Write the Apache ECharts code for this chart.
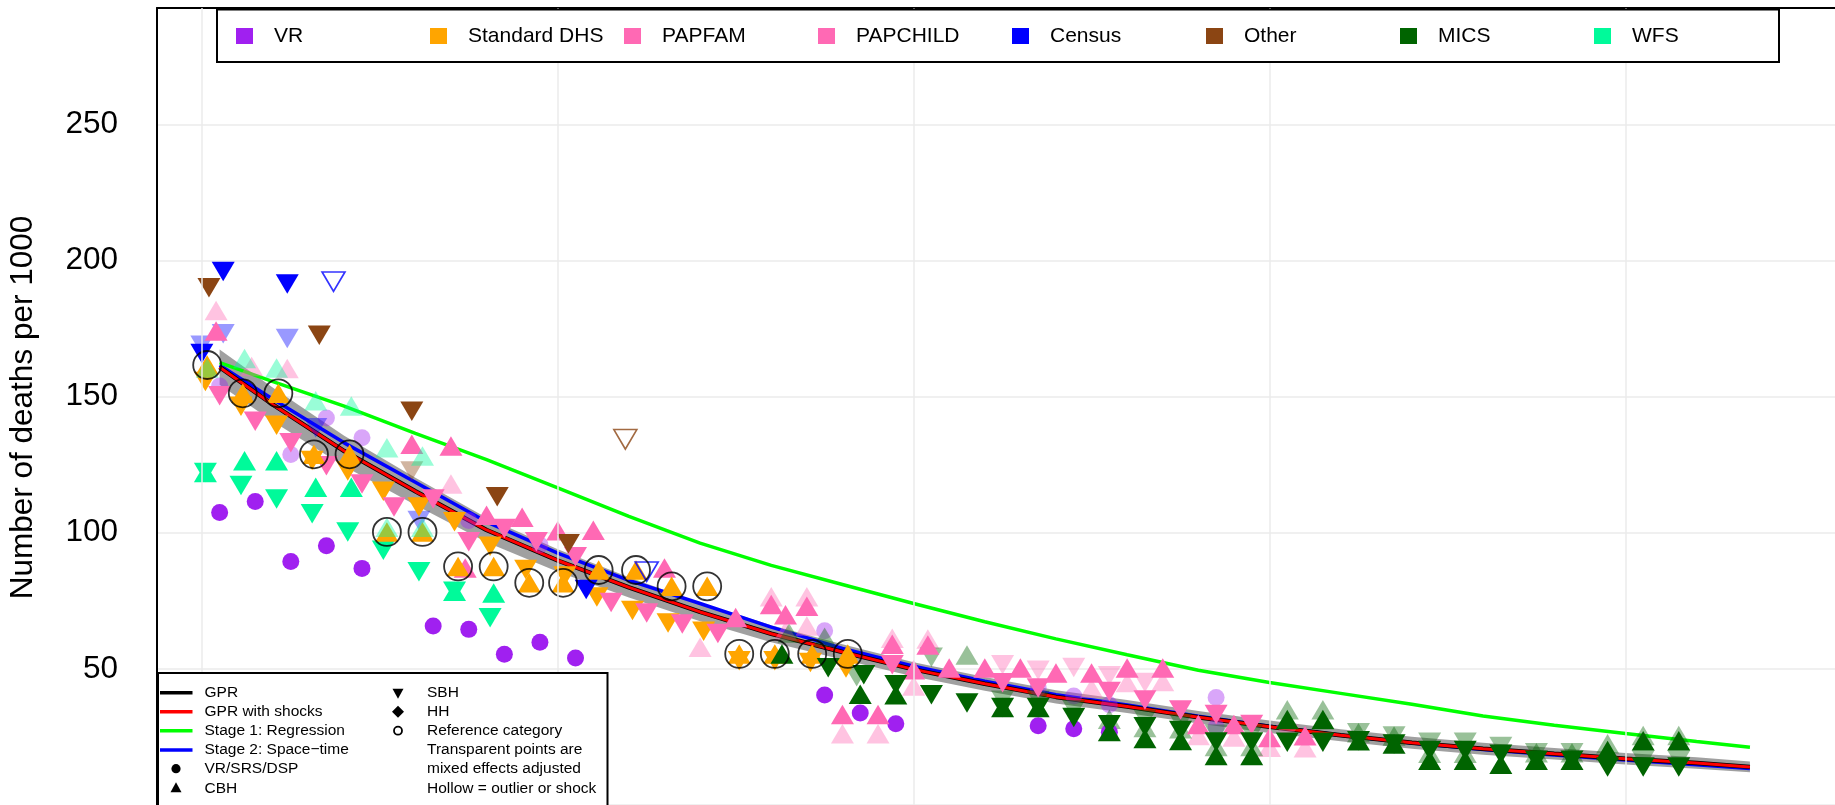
<!DOCTYPE html>
<html><head><meta charset="utf-8">
<script src="https://cdn.jsdelivr.net/npm/echarts@6.0.0/dist/echarts.min.js"></script>
<style>html,body{margin:0;padding:0;background:#fff;overflow:hidden}#c{width:1835px;height:805px}</style>
</head><body><div id="c"></div>
<script>
// ---------- legend / categories ----------
const sources = ['VR','Standard DHS','PAPFAM','PAPCHILD','Census','Other','MICS','WFS'];
const sourceColors = ['#A020F0','#FFA500','#FF69B4','#FF69B4','#0000FF','#8B4513','#006400','#00FA9A'];
const lineLegend = ['GPR','GPR with shocks','Stage 1: Regression','Stage 2: Space\u2212time'];
const lineLegendColors = ['#000000','#FF0000','#00FF00','#0000FF'];
const typeLegend = ['VR/SRS/DSP','CBH'];
const noteLegend = ['SBH','HH','Reference category','Transparent points are','mixed effects adjusted','Hollow = outlier or shock'];
const yTitle = 'Number of deaths per 1000';
const xGridYears = [1970,1980,1990,2000,2010];

// ---------- estimate lines ----------
const estYears  = [1970.5,1972,1974,1976,1978,1980,1982,1984,1986,1988,1990,1992,1994,1996,1998,2000,2002,2004,2006,2008,2010,2012,2013.5];
const gpr       = [160.8,147.0,130.0,115.2,101.0,89.8,79.9,70.9,62.9,56.2,49.8,44.5,39.7,36.2,32.2,28.7,25.6,22.9,20.7,18.8,17.0,15.4,14.0];
const gprShocks = [160.8,147.0,130.0,115.2,101.0,89.8,79.9,70.9,62.9,56.2,49.8,44.5,39.7,36.2,32.2,28.7,25.6,22.9,20.7,18.8,17.0,15.4,14.0];
const stage1    = [162.5,155.5,146.5,136.5,126.8,116.5,106.0,96.2,88.0,81.0,74.0,67.3,61.0,55.2,49.5,45.0,41.0,37.0,32.7,29.3,26.3,23.3,21.2];
const stage2    = [161.5,149.0,133.0,118.5,104.0,92.5,82.5,74.0,65.3,57.5,51.0,45.5,40.5,36.7,32.6,28.9,25.6,22.8,20.4,18.4,16.5,14.8,13.4];
const gprLower  = [154.3,140.8,124.4,110.2,96.5,85.7,76.2,67.5,59.8,53.4,47.2,42.0,37.3,33.8,29.9,26.4,23.4,20.7,18.5,16.7,14.9,13.3,12.0];
const gprUpper  = [167.3,153.2,135.6,120.2,105.5,93.9,83.6,74.3,66.0,59.0,52.4,47.0,42.1,38.6,34.5,31.0,27.8,25.1,22.9,20.9,19.1,17.5,16.0];

// ---------- data points [year, value] ----------
const vrPoints = [[1970.5,107.4],[1971.5,111.5],[1972.5,89.4],[1973.5,95.2],[1974.5,86.9],[1976.5,65.7],[1977.5,64.5],[1978.5,55.4],[1979.5,59.8],[1980.5,54.0],[1987.5,40.4],[1988.5,33.8],[1989.5,29.8],[1993.5,29.1],[1994.5,28.0],[1995.5,26.7]];
const vrAdj = [[1970.5,153.9],[1972.5,128.7],[1973.5,142.1],[1974.5,134.9],[1977.5,104.5],[1979.5,95.5],[1987.5,64.0],[1993.5,43.0],[1994.5,40.0],[1995.5,36.8],[1998.5,39.5],[1998.5,28.6]];

const dhsCBH = [[1970.15,161.6],[1971.15,151.2],[1972.15,151.2],[1973.15,128.8],[1974.15,128.8],[1975.2,100.3],[1976.2,100.3],[1977.2,87.6],[1978.2,87.6],[1979.2,81.6],[1980.15,81.6],[1981.15,86.3],[1982.2,86.3],[1983.2,80.3],[1984.2,80.3],[1985.1,55.5],[1986.1,55.5],[1987.15,55.5],[1988.15,55.5]];
const dhsSBH = [[1970.1,155.5],[1971.1,146.4],[1972.1,139.5],[1973.1,126.5],[1974.1,122.7],[1975.1,115.2],[1976.1,109.4],[1977.1,104.0],[1978.1,95.0],[1979.1,86.5],[1980.2,84.1],[1981.1,76.4],[1982.1,71.4],[1983.1,66.8],[1984.1,63.8],[1985.1,53.0],[1986.1,53.0],[1987.1,52.3],[1988.1,50.3]];

const papchildCBH = [[1970.4,174.1],[1975.9,132.5],[1977.0,131.8],[1978.0,106.4],[1979.0,105.7],[1980.0,100.7],[1981.0,100.9],[1983.0,87.0],[1977.4,87.0],[1985.0,68.9],[1986.0,73.6],[1986.4,69.9],[1987.0,73.0]];
const papchildSBH = [[1970.5,150.3],[1971.5,140.9],[1972.5,133.0],[1973.5,124.6],[1974.5,117.9],[1975.4,109.4],[1976.5,112.4],[1977.5,96.7],[1978.5,101.5],[1979.4,96.7],[1980.5,91.2],[1981.5,74.4],[1982.5,70.5],[1983.5,66.5],[1984.5,63.0]];
const papchildCBHAdj = [[1970.4,181.6],[1971.4,161.0],[1972.4,160.3],[1977.0,117.9],[1984.0,57.9],[1986.0,76.5],[1986.4,64.0],[1987.0,65.7],[1987.0,76.5]];
const papfamCBH = [[1988.0,33.2],[1989.0,33.2],[1989.4,59.0],[1990.0,49.7],[1990.4,58.8],[1991.0,50.3],[1992.0,50.3],[1993.0,50.3],[1994.0,48.5],[1995.0,48.5],[1996.0,50.3],[1997.0,50.3],[1998.0,29.6],[1999.0,29.6],[2000.0,24.8],[2001.0,25.4]];
const papfamSBH = [[1989.4,51.5],[1992.5,44.9],[1993.5,43.0],[1995.5,41.7],[1996.5,38.6],[1997.5,34.9],[1998.5,33.2],[1999.5,29.6]];
const papfamCBHAdj = [[1988.0,26.2],[1989.0,26.2],[1989.4,61.2],[1990.0,43.7],[1990.4,61.0],[1995.0,42.9],[1996.0,45.0],[1997.0,45.4],[1998.0,25.5],[1999.0,25.0],[2000.0,21.2],[2001.0,21.0]];
const papfamSBHAdj = [[1992.5,51.5],[1993.5,49.5],[1994.5,50.5],[1995.5,47.5],[1996.5,45.0],[2000.5,26.0]];

const censusSBH = [[1970.6,195.9],[1972.4,191.3],[1970.0,165.8],[1980.8,79.1]];
const censusHollow = [[1973.7,192.2],[1982.5,85.7]];
const censusAdj = [[1970.0,168.8],[1970.6,173.1],[1972.4,171.3],[1973.2,138.5],[1976.1,104.5]];

const otherSBH = [[1970.2,190.0],[1973.3,172.5],[1975.9,144.6],[1978.3,113.2],[1980.3,95.9]];
const otherHollow = [[1981.9,134.3]];
const otherAdj = [[1975.9,122.7]];

const micsCBH = [[1986.3,55.5],[1988.5,40.7],[1989.5,40.5],[1992.5,35.8],[1993.5,35.8],[1995.5,27.0],[1996.5,24.4],[1997.5,23.7],[1998.5,18.2],[1999.5,18.2],[2000.5,31.4],[2001.5,31.4],[2002.5,23.6],[2003.5,22.4],[2004.5,16.4],[2005.5,16.4],[2006.5,15.0],[2007.5,16.4],[2008.5,16.4],[2009.5,20.0],[2010.5,23.6],[2011.5,23.6]];
const micsSBH = [[1987.6,50.4],[1988.6,47.8],[1989.5,44.2],[1990.5,40.5],[1991.5,37.5],[1992.5,35.8],[1993.5,35.8],[1994.5,32.1],[1995.5,29.5],[1996.5,28.7],[1997.5,27.4],[1998.5,23.1],[1999.5,23.1],[2000.5,23.0],[2001.5,23.0],[2002.5,23.6],[2003.5,22.4],[2004.5,20.0],[2005.5,20.0],[2006.5,18.6],[2007.5,16.4],[2008.5,16.4],[2009.5,14.0],[2010.5,14.0],[2011.5,14.0]];
const micsCBHAdj = [[1986.5,63.2],[1987.5,61.6],[1991.5,55.1],[1995.5,31.5],[1996.5,28.5],[1997.5,28.0],[1998.5,21.5],[1999.5,21.5],[2000.5,35.0],[2001.5,35.0],[2002.5,26.5],[2003.5,25.3],[2004.5,19.0],[2005.5,19.0],[2007.5,19.2],[2008.5,19.2],[2009.5,22.5],[2010.5,25.5],[2011.5,25.5]];
const micsSBHAdj = [[1988.4,47.1],[1990.5,54.3],[1992.5,38.5],[1993.5,38.5],[1994.5,35.0],[1996.5,31.5],[1997.5,30.0],[1998.5,26.0],[1999.5,26.0],[2002.5,26.5],[2003.5,25.3],[2004.5,23.0],[2005.5,23.0],[2006.5,21.5],[2007.5,19.2],[2008.5,19.2],[2010.5,16.5],[2011.5,16.5]];

const wfsCBH = [[1970.1,122.1],[1971.2,126.4],[1972.1,126.4],[1973.2,116.7],[1974.2,116.7],[1977.1,78.5],[1978.2,77.9]];
const wfsSBH = [[1970.1,122.1],[1971.1,117.3],[1972.1,112.4],[1973.1,107.0],[1974.1,100.3],[1975.1,93.6],[1976.1,85.7],[1977.1,78.5],[1978.1,68.8]];
const wfsCBHAdj = [[1970.15,160.5],[1971.2,164.0],[1972.1,160.5],[1973.2,148.5],[1974.2,146.5],[1975.2,131.2],[1976.2,128.2],[1975.2,102.0],[1976.2,102.0]];

// ---------- build ----------
const FONT = '"Liberation Sans", Arial, Helvetica, sans-serif';
const zip = (xs, ys) => xs.map((x, i) => [x, ys[i]]);
const TRI = [23, 19.5];

function pts(name, data, color, kind, mode) {
  const s = {
    name, type: 'scatter', data, z: 3, animation: false, silent: true,
    symbol: kind === 'circle' ? 'circle' : 'triangle',
    symbolSize: kind === 'circle' ? 17 : TRI,
    symbolRotate: kind === 'down' ? 180 : 0,
    itemStyle: { color: color, opacity: mode === 'adj' ? 0.4 : 1 }
  };
  if (mode === 'hollow') s.itemStyle = { color: 'rgba(255,255,255,0)', borderColor: color, borderWidth: 1.6 };
  return s;
}
function line(name, ys, color, width, z) {
  return { name, type: 'line', data: zip(estYears, ys), showSymbol: false, symbol: 'none',
    lineStyle: { color, width }, z, animation: false, silent: true };
}

const C = {};
sources.forEach((s, i) => C[s] = sourceColors[i]);

const series = [
  { type: 'scatter', data: [], silent: true, z: 1,
    markLine: { silent: true, symbol: 'none', label: { show: false }, animation: false,
      lineStyle: { color: '#EBEBEB', width: 1.5, type: 'solid' },
      data: xGridYears.map(v => ({ xAxis: v })) } },
  { name: 'GPR band', type: 'custom', z: 2, silent: true, animation: false,
    data: estYears.map((y, i) => [y, gprLower[i], gprUpper[i]]),
    encode: { x: 0, y: [1, 2] },
    renderItem: function (params, api) {
      if (params.dataIndex !== 0) return null;
      const up = [], lo = [];
      for (let i = 0; i < estYears.length; i++) {
        up.push(api.coord([estYears[i], gprUpper[i]]));
        lo.push(api.coord([estYears[i], gprLower[i]]));
      }
      return { type: 'polygon', shape: { points: up.concat(lo.reverse()) },
        style: { fill: 'rgba(120,120,120,0.7)', stroke: 'none' } };
    } },
  line('Stage 2: Space-time', stage2, '#0000FF', 3.5, 2),
  line('Stage 1: Regression', stage1, '#00FF00', 3.5, 2),
  line('GPR', gpr, '#000000', 4.5, 2),
  line('GPR with shocks', gprShocks, '#FF0000', 3, 2),

  pts('VR adj', vrAdj, C['VR'], 'circle', 'adj'),
  pts('PAPCHILD CBH adj', papchildCBHAdj, C['PAPCHILD'], 'up', 'adj'),
  pts('PAPFAM CBH adj', papfamCBHAdj, C['PAPFAM'], 'up', 'adj'),
  pts('PAPFAM SBH adj', papfamSBHAdj, C['PAPFAM'], 'down', 'adj'),
  pts('Census adj', censusAdj, C['Census'], 'down', 'adj'),
  pts('Other adj', otherAdj, C['Other'], 'down', 'adj'),
  pts('MICS CBH adj', micsCBHAdj, C['MICS'], 'up', 'adj'),
  pts('MICS SBH adj', micsSBHAdj, C['MICS'], 'down', 'adj'),

  pts('VR', vrPoints, C['VR'], 'circle'),
  pts('WFS SBH', wfsSBH, C['WFS'], 'down'),
  pts('WFS CBH', wfsCBH, C['WFS'], 'up'),
  pts('Standard DHS SBH', dhsSBH, C['Standard DHS'], 'down'),
  pts('PAPCHILD SBH', papchildSBH, C['PAPCHILD'], 'down'),
  pts('PAPCHILD CBH', papchildCBH, C['PAPCHILD'], 'up'),
  pts('PAPFAM SBH', papfamSBH, C['PAPFAM'], 'down'),
  pts('PAPFAM CBH', papfamCBH, C['PAPFAM'], 'up'),
  pts('Standard DHS CBH', dhsCBH, C['Standard DHS'], 'up'),
  pts('MICS SBH', micsSBH, C['MICS'], 'down'),
  pts('MICS CBH', micsCBH, C['MICS'], 'up'),
  pts('Census SBH', censusSBH, C['Census'], 'down'),
  pts('Census hollow', censusHollow, C['Census'], 'down', 'hollow'),
  pts('Other SBH', otherSBH, C['Other'], 'down'),
  pts('Other hollow', otherHollow, C['Other'], 'down', 'hollow'),
  pts('WFS CBH adj', wfsCBHAdj, C['WFS'], 'up', 'adj'),
  { name: 'Reference', type: 'scatter', data: dhsCBH, symbol: 'circle', symbolSize: 28, z: 4, silent: true, animation: false,
    itemStyle: { color: 'rgba(255,255,255,0)', borderColor: '#000', borderWidth: 1.8 } }
];

// ---------- legends as graphic ----------
const g = [];
g.push({ type: 'text', x: 23, y: 407.5, rotation: Math.PI / 2, z: 100,
  style: { text: yTitle, font: '31.5px ' + FONT, fill: '#000', align: 'center', verticalAlign: 'middle', textAlign: 'center', textVerticalAlign: 'middle' } });
g.push({ type: 'rect', z: 100, shape: { x: 217, y: 9.5, width: 1562, height: 52.5 }, style: { fill: '#fff', stroke: '#000', lineWidth: 2 } });
sources.forEach((s, i) => {
  const x0 = 236 + i * 194;
  g.push({ type: 'rect', z: 101, shape: { x: x0, y: 28, width: 17, height: 16 }, style: { fill: sourceColors[i] } });
  g.push({ type: 'text', z: 101, x: x0 + 38, y: 36.5,
    style: { text: s, font: '21px ' + FONT, fill: '#000', align: 'left', verticalAlign: 'middle', textAlign: 'left', textVerticalAlign: 'middle' } });
});
const rows = [692.7, 711.7, 730.7, 750, 768.7, 788.3];
g.push({ type: 'rect', z: 100, shape: { x: 158, y: 673, width: 449.5, height: 170 }, style: { fill: '#fff', stroke: '#000', lineWidth: 2 } });
const T = (t, x, y) => ({ type: 'text', z: 101, x, y,
  style: { text: t, font: '15.5px ' + FONT, fill: '#000', align: 'left', verticalAlign: 'middle', textAlign: 'left', textVerticalAlign: 'middle' } });
lineLegend.forEach((t, i) => {
  g.push({ type: 'line', z: 101, shape: { x1: 160, y1: rows[i], x2: 192.5, y2: rows[i] }, style: { stroke: lineLegendColors[i], lineWidth: 3.5 } });
  g.push(T(t, 204.5, rows[i]));
});
g.push({ type: 'circle', z: 101, shape: { cx: 176, cy: rows[4], r: 4.6 }, style: { fill: '#000' } });
g.push(T(typeLegend[0], 204.5, rows[4]));
g.push({ type: 'polygon', z: 101, shape: { points: [[176, rows[5] - 6], [181.5, rows[5] + 4], [170.5, rows[5] + 4]] }, style: { fill: '#000' } });
g.push(T(typeLegend[1], 204.5, rows[5]));
g.push({ type: 'polygon', z: 101, shape: { points: [[398, rows[0] + 6], [403.5, rows[0] - 4], [392.5, rows[0] - 4]] }, style: { fill: '#000' } });
g.push({ type: 'polygon', z: 101, shape: { points: [[398, rows[1] - 6], [404, rows[1]], [398, rows[1] + 6], [392, rows[1]]] }, style: { fill: '#000' } });
g.push({ type: 'circle', z: 101, shape: { cx: 398, cy: rows[2], r: 4 }, style: { fill: '#fff', stroke: '#000', lineWidth: 1.8 } });
noteLegend.forEach((t, i) => g.push(T(t, 427, rows[i])));

const chart = echarts.init(document.getElementById('c'), null, { renderer: 'canvas' });
chart.setOption({
  backgroundColor: '#fff',
  animation: false,
  grid: { left: 157, top: 8, right: -10, bottom: -7.3, containLabel: false },
  xAxis: { type: 'value', position: 'top', min: 1968.74, max: 2015.89,
    axisLine: { show: true, onZero: false, lineStyle: { color: '#000', width: 2 } },
    axisTick: { show: false }, axisLabel: { show: false }, splitLine: { show: false } },
  yAxis: { type: 'value', min: 0, max: 292.7, interval: 50,
    axisLine: { show: true, onZero: false, lineStyle: { color: '#000', width: 2 } },
    axisTick: { show: false },
    axisLabel: { show: true, fontSize: 31.5, fontFamily: FONT, color: '#000', margin: 39, showMaxLabel: false, showMinLabel: false },
    splitLine: { show: true, lineStyle: { color: '#EBEBEB', width: 1.5 } } },
  series,
  graphic: { elements: g }
});
</script></body></html>
